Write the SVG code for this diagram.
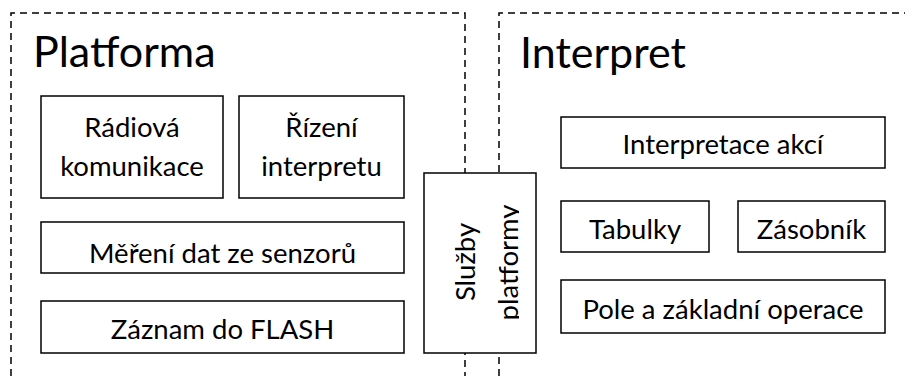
<svg xmlns="http://www.w3.org/2000/svg" width="905" height="376" viewBox="0 0 905 376">
<style>
.panel{fill:none;stroke:#000;stroke-width:1.5;stroke-dasharray:7,5}
.box{fill:#fff;stroke:#000;stroke-width:1.5}
.t{font-family:Lato,"Open Sans",sans-serif;font-size:27.5px;fill:#000;text-anchor:middle}
.h{font-family:Lato,"Open Sans",sans-serif;font-size:43px;fill:#000}
</style>
<defs>
<clipPath id="clipSl"><rect x="425" y="174" width="94" height="178"/></clipPath>
</defs>
<g id="platforma">
<path class="panel" d="M11,376 V13 H465 V376"/>
<text class="h" x="33" y="67">Platforma</text>
</g>
<g id="interpret">
<path class="panel" d="M499,376 V13 H905"/>
<text class="h" x="520" y="68">Interpret</text>
</g>
<g id="radio">
<rect class="box" x="41" y="96" width="182" height="102"/>
<text class="t" x="132" y="137">Rádiová</text>
<text class="t" x="132" y="176">komunikace</text>
</g>
<g id="rizeni">
<rect class="box" x="239" y="96" width="165" height="102"/>
<text class="t" x="321.5" y="137">Řízení</text>
<text class="t" x="321.5" y="176">interpretu</text>
</g>
<g id="mereni">
<rect class="box" x="41" y="222" width="363" height="51"/>
<text class="t" x="222.5" y="263">Měření dat ze senzorů</text>
</g>
<g id="zaznam">
<rect class="box" x="41" y="301" width="363" height="52"/>
<text class="t" x="222.5" y="339">Záznam do FLASH</text>
</g>
<g id="sluzby">
<rect class="box" x="424" y="173" width="112" height="180"/>
<g clip-path="url(#clipSl)">
<text class="t" transform="translate(475,262) rotate(-90)">Služby</text>
<text class="t" transform="translate(518,262.5) rotate(-90)">platformy</text>
</g>
</g>
<g id="interpretace">
<rect class="box" x="561" y="117" width="324" height="51"/>
<text class="t" x="723" y="154">Interpretace akcí</text>
</g>
<g id="tabulky">
<rect class="box" x="561" y="201" width="148" height="51"/>
<text class="t" x="635" y="239">Tabulky</text>
</g>
<g id="zasobnik">
<rect class="box" x="738" y="201" width="147" height="51"/>
<text class="t" x="811.5" y="239">Zásobník</text>
</g>
<g id="pole">
<rect class="box" x="561" y="280" width="324" height="53"/>
<text class="t" x="723" y="319">Pole a základní operace</text>
</g>
<g id="connectors"></g>
</svg>
